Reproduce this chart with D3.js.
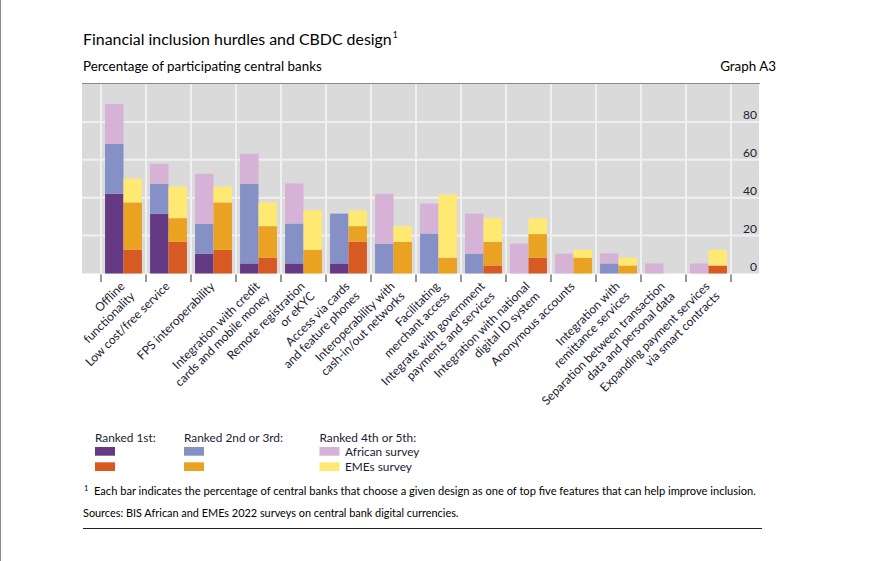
<!DOCTYPE html>
<html><head><meta charset="utf-8">
<script src="https://cdn.jsdelivr.net/npm/d3@7"></script>
<style>
body{margin:0;background:#fff}
svg{display:block}
text{font-family:Lato,"Open Sans",sans-serif}
</style>
</head><body>
<svg id="chart" width="870" height="561"></svg>
<script>
// ---- data ----
const categories = [
  "Offline\nfunctionality",
  "Low cost/free service",
  "FPS interoperability",
  "Integration with credit\ncards and mobile money",
  "Remote registration\nor eKYC",
  "Access via cards\nand feature phones",
  "Interoperability with\ncash-in/out networks",
  "Facilitating\nmerchant access",
  "Integrate with government\npayments and services",
  "Integration with national\ndigital ID system",
  "Anonymous accounts",
  "Integration with\nremittance services",
  "Separation between transaction\ndata and personal data",
  "Expanding payment services\nvia smart contracts"
];
// African survey: segment shares (% of participating central banks)
const africaRanked1st      = [42.1, 31.6, 10.5,  5.3,  5.3,  5.3,  0,    0,    0,    0,    0,    0,   0,   0];
const africaRanked2nd3rd   = [26.3, 15.8, 15.8, 42.1, 21.1, 26.3, 15.8, 21.1, 10.5,  0,    0,    5.3, 0,   0];
const africaRanked4th5th   = [21.1, 10.5, 26.3, 15.8, 21.1,  0,   26.3, 15.8, 21.1, 15.8, 10.5,  5.3, 5.3, 5.3];
// EMEs survey
const emesRanked1st        = [12.5, 16.7, 12.5,  8.3,  0,   16.7,  0,    0,    4.2,  8.3,  0,    0,   0,   4.2];
const emesRanked2nd3rd     = [25.0, 12.5, 25.0, 16.7, 12.5,  8.3, 16.7,  8.3, 12.5, 12.5,  8.3,  4.2, 0,   0];
const emesRanked4th5th     = [12.5, 16.7,  8.3, 12.5, 20.8,  8.3,  8.3, 33.3, 12.5,  8.3,  4.2,  4.2, 0,   8.3];
const yTicks = [0, 20, 40, 60, 80];

const title = "Financial inclusion hurdles and CBDC design";
const subtitle = "Percentage of participating central banks";
const graphLabel = "Graph A3";
const footnote = "Each bar indicates the percentage of central banks that choose a given design as one of top five features that can help improve inclusion.";
const sources = "Sources: BIS African and EMEs 2022 surveys on central bank digital currencies.";

const colors = {
  africa: ["#643A84", "#8490C6", "#D6B2D6"],
  emes:   ["#D65A22", "#E9A222", "#FFE972"]
};

// ---- layout ----
const svg = d3.select("#chart");
const textCol = "#1b2033";
const plotL = 82, plotR = 759, plotT = 84, plotB = 273.5;

function fit(sel, target) {
  const w = sel.node().getComputedTextLength();
  const fs = parseFloat(sel.attr("font-size"));
  sel.attr("font-size", fs * target / w);
  return fs * target / w;
}

svg.append("line").attr("x1",0.5).attr("x2",0.5).attr("y1",0).attr("y2",561)
  .attr("stroke","#8c8c8c").attr("stroke-width",1);

// titles
const t = svg.append("text").attr("x",83).attr("y",45).attr("font-size",16).attr("fill","#000").text(title);
fit(t, 309);
const tw = t.node().getComputedTextLength();
svg.append("text").attr("x",83+tw+1).attr("y",38).attr("font-size",8.5).attr("fill","#000").text("1");

const st = svg.append("text").attr("x",83).attr("y",71).attr("font-size",12.5).attr("fill","#000").text(subtitle);
fit(st, 239);
svg.append("text").attr("x",776).attr("y",71).attr("font-size",st.attr("font-size")).attr("text-anchor","end").attr("fill","#000").text(graphLabel);

// scales
const x0 = d3.scaleBand().domain(categories).range([101, 731]).paddingInner(0).paddingOuter(0);
const x1 = d3.scaleBand().domain(["africa","emes"]).range([0, x0.bandwidth()]).paddingInner(0).paddingOuter(0.22);
const y = d3.scaleLinear().domain([0, 100]).range([plotB, plotT]);

// background
svg.append("rect").attr("x",plotL).attr("y",plotT).attr("width",plotR-plotL).attr("height",plotB-plotT).attr("fill","#DADADA");

// grid
const grid = svg.append("g").attr("stroke","#F0F0F0").attr("stroke-width",2);
grid.selectAll("line.h").data(yTicks.filter(d=>d>0)).join("line").attr("class","h")
  .attr("x1",plotL).attr("x2",plotR).attr("y1",d=>y(d)).attr("y2",d=>y(d));
const bounds = categories.map(c=>x0(c)).concat([x0.range()[1]]);
grid.selectAll("line.v").data(bounds).join("line").attr("class","v")
  .attr("x1",d=>d).attr("x2",d=>d).attr("y1",plotT).attr("y2",plotB);

// top rule
svg.append("line").attr("x1",plotL).attr("x2",plotR+1).attr("y1",83.5).attr("y2",83.5)
  .attr("stroke","#8a8a8a").attr("stroke-width",1.2);

// stacked bars
const rows = categories.map((c,i)=>({cat:c,
  africa:[africaRanked1st[i], africaRanked2nd3rd[i], africaRanked4th5th[i]],
  emes:[emesRanked1st[i], emesRanked2nd3rd[i], emesRanked4th5th[i]]}));
const stackKeys = [0,1,2];
["africa","emes"].forEach(survey=>{
  const stacked = d3.stack().keys(stackKeys).value((d,k)=>d[survey][k])(rows);
  stacked.forEach((layer,li)=>{
    svg.append("g").attr("fill",colors[survey][li])
      .selectAll("rect").data(layer.filter(d=>d[1]-d[0]>0)).join("rect")
      .attr("x",d=>x0(d.data.cat)+x1(survey))
      .attr("width",x1.bandwidth())
      .attr("y",d=>y(d[1]))
      .attr("height",d=>y(d[0])-y(d[1]));
  });
});

// y axis labels (right, inside plot)
svg.append("g").selectAll("text").data(yTicks).join("text")
  .attr("x",757).attr("y",d=>y(d)-3).attr("text-anchor","end")
  .attr("font-size",12).attr("fill",textCol).text(d=>d);

// x ticks
svg.append("g").attr("stroke","#6b6b6b").attr("stroke-width",1.4)
  .selectAll("line").data(bounds).join("line")
  .attr("x1",d=>d).attr("x2",d=>d).attr("y1",274.5).attr("y2",282);

// x labels
const probe = svg.append("text").attr("font-size",11).text("Anonymous accounts");
const labFs = fit(probe, 113);
probe.remove();
const xl = svg.append("g").selectAll("text").data(categories).join("text")
  .attr("transform",d=>`translate(${x0(d)+x0.bandwidth()/2+2},${287}) rotate(-45)`)
  .attr("text-anchor","end").attr("font-size",labFs).attr("fill",textCol);
xl.selectAll("tspan").data(d=>d.split("\n")).join("tspan")
  .attr("x",0).attr("dy",(d,i)=>i===0?0:14).text(d=>d);

// legend
const lg = svg.append("g");
const legHead = [["Ranked 1st:",95],["Ranked 2nd or 3rd:",184],["Ranked 4th or 5th:",319.5]];
const lh = lg.selectAll("text.h").data(legHead).join("text").attr("class","h")
  .attr("x",d=>d[1]).attr("y",441.5).attr("font-size",11.5).attr("fill",textCol).text(d=>d[0]);
const legFs = fit(lh.filter((d,i)=>i===1), 99);
lh.attr("font-size",legFs);
const swCols = [[colors.africa[0],colors.emes[0]],[colors.africa[1],colors.emes[1]],[colors.africa[2],colors.emes[2]]];
legHead.forEach((h,i)=>{
  swCols[i].forEach((c,j)=>{
    lg.append("rect").attr("x",h[1]).attr("y",447+j*15.3).attr("width",20).attr("height",8.7).attr("fill",c);
  });
});
lg.append("text").attr("x",345).attr("y",456).attr("font-size",legFs).attr("fill",textCol).text("African survey");
lg.append("text").attr("x",345).attr("y",471).attr("font-size",legFs).attr("fill",textCol).text("EMEs survey");

// footnotes
svg.append("text").attr("x",84).attr("y",491).attr("font-size",7.5).attr("fill","#000").text("1");
const fn = svg.append("text").attr("x",94).attr("y",495).attr("font-size",10.5).attr("fill","#000").text(footnote);
fit(fn, 663);
const so = svg.append("text").attr("x",83).attr("y",517).attr("font-size",10.5).attr("fill","#000").text(sources);
fit(so, 376);

svg.append("line").attr("x1",83).attr("x2",762).attr("y1",528.5).attr("y2",528.5)
  .attr("stroke","#222").attr("stroke-width",1);
</script>
</body></html>
